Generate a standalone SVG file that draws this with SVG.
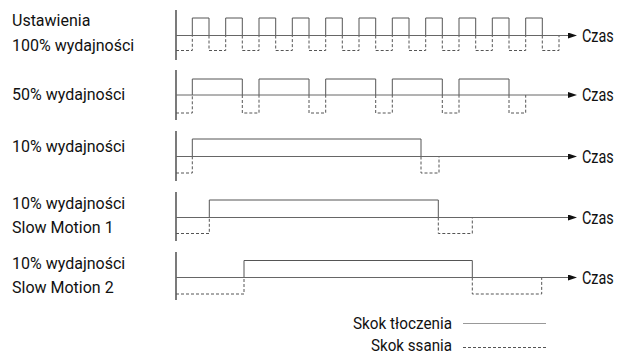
<svg xmlns="http://www.w3.org/2000/svg" width="617" height="354" viewBox="0 0 617 354">
<style>
  text { font-family: Roboto, "Liberation Sans", Arial, sans-serif; font-size: 16px; fill: #111; }
  .czas { font-size: 18px; }
  .axis { stroke: #222; stroke-width: 1.2; fill: none; }
  .base { stroke: #666; stroke-width: 1; fill: none; }
  .push { stroke: #555; stroke-width: 1; fill: none; }
  .suck { stroke: #555; stroke-width: 1; fill: none; stroke-dasharray: 3 2; }
</style>
<defs>
  <marker id="arr" markerWidth="9" markerHeight="6" refX="0" refY="3" orient="auto" markerUnits="userSpaceOnUse">
    <path d="M0,0 L9,3 L0,6 Z" fill="#111"/>
  </marker>
</defs>

<g id="labels">
  <text x="12" y="26">Ustawienia</text>
  <text x="12" y="51">100% wydajności</text>
  <text x="12" y="100">50% wydajności</text>
  <text x="12" y="152">10% wydajności</text>
  <text x="12" y="209">10% wydajności</text>
  <text x="12" y="233">Slow Motion 1</text>
  <text x="12" y="269">10% wydajności</text>
  <text x="12" y="293">Slow Motion 2</text>
</g>

<g id="row1">
  <line class="axis" x1="176" y1="10" x2="176" y2="60"/>
  <path class="push" d="M192.3 35.5V18H209V35.5 M225.7 35.5V18H242.3V35.5 M259 35.5V18H275.7V35.5 M292.3 35.5V18H309V35.5 M325.7 35.5V18H342.3V35.5 M359 35.5V18H375.7V35.5 M392.3 35.5V18H409V35.5 M425.7 35.5V18H442.3V35.5 M459 35.5V18H475.7V35.5 M492.3 35.5V18H509V35.5 M525.7 35.5V18H542.3V35.5"/>
  <path class="suck" d="M176 50.5H192.3V35.5 M209 35.5V50.5H225.7V35.5 M242.3 35.5V50.5H259V35.5 M275.7 35.5V50.5H292.3V35.5 M309 35.5V50.5H325.7V35.5 M342.3 35.5V50.5H359V35.5 M375.7 35.5V50.5H392.3V35.5 M409 35.5V50.5H425.7V35.5 M442.3 35.5V50.5H459V35.5 M475.7 35.5V50.5H492.3V35.5 M509 35.5V50.5H525.7V35.5 M542.3 35.5V50.5H559V35.5"/>
  <text class="czas" transform="translate(582 41.5) scale(0.8 1)">Czas</text>
</g>

<g id="row2">
  <line class="axis" x1="176" y1="70" x2="176" y2="120"/>
  <path class="push" d="M192.3 95V79H242.3V95 M259 95V79H309V95 M325.7 95V79H375.7V95 M392.3 95V79H442.3V95 M459 95V79H509V95"/>
  <path class="suck" d="M176 113H192.3V95 M242.3 95V113H259V95 M309 95V113H325.7V95 M375.7 95V113H392.3V95 M442.3 95V113H459V95 M509 95V113H525.7V95"/>
  <text class="czas" transform="translate(582 101) scale(0.8 1)">Czas</text>
</g>

<g id="row3">
  <line class="axis" x1="176" y1="131" x2="176" y2="181"/>
  <path class="push" d="M192.3 156.5V139H421V156.5"/>
  <path class="suck" d="M176 173H192.3V156.5 M421 156.5V173H439V156.5"/>
  <text class="czas" transform="translate(582 162.5) scale(0.8 1)">Czas</text>
</g>

<g id="row4">
  <line class="axis" x1="176" y1="192" x2="176" y2="241"/>
  <path class="push" d="M209.3 217.5V200H438.3V217.5"/>
  <path class="suck" d="M176 233.5H209.3V217.5 M438.3 217.5V233.5H472.3V217.5"/>
  <text class="czas" transform="translate(582 223.5) scale(0.8 1)">Czas</text>
</g>

<g id="row5">
  <line class="axis" x1="176" y1="252" x2="176" y2="300"/>
  <path class="push" d="M244 277.5V260.5H472.3V277.5"/>
  <path class="suck" d="M176 294H244V277.5 M472.3 277.5V294H541.7V277.5"/>
  <text class="czas" transform="translate(582 283.5) scale(0.8 1)">Czas</text>
</g>

<g id="connectors">
  <line class="base" x1="176" y1="35.5" x2="568" y2="35.5" marker-end="url(#arr)"/>
  <line class="base" x1="176" y1="95" x2="568" y2="95" marker-end="url(#arr)"/>
  <line class="base" x1="176" y1="156.5" x2="568" y2="156.5" marker-end="url(#arr)"/>
  <line class="base" x1="176" y1="217.5" x2="568" y2="217.5" marker-end="url(#arr)"/>
  <line class="base" x1="176" y1="277.5" x2="568" y2="277.5" marker-end="url(#arr)"/>
</g>

<g id="legend">
  <text x="353" y="328.5" textLength="99" lengthAdjust="spacingAndGlyphs">Skok tłoczenia</text>
  <line x1="463" y1="323.5" x2="546" y2="323.5" style="stroke:#999;stroke-width:1"/>
  <text x="371" y="351" textLength="81" lengthAdjust="spacingAndGlyphs">Skok ssania</text>
  <line class="suck" x1="463" y1="347.5" x2="546" y2="347.5"/>
</g>
</svg>
